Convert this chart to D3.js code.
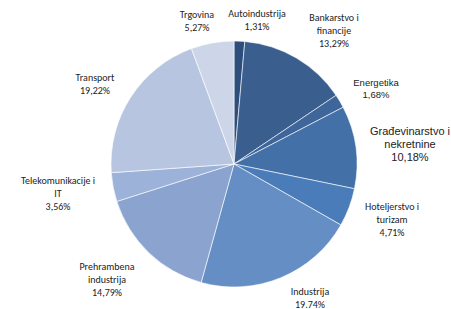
<!DOCTYPE html>
<html>
<head>
<meta charset="utf-8">
<script src="https://cdn.jsdelivr.net/npm/d3@7"></script>
<style>
  body { margin: 0; background: #fff; }
  text { fill: #222; }
</style>
</head>
<body>
<div id="canva"></div>
<script>
const sectors = ["Autoindustrija", "Bankarstvo i financije", "Energetika", "Građevinarstvo i nekretnine",
    "Hoteljerstvo i turizam", "Industrija", "Prehrambena industrija", "Telekomunikacije i IT", "Transport", "Trgovina"];
const shares = [1.31, 13.29, 1.68, 10.18, 4.71, 19.74, 14.79, 3.56, 19.22, 5.27];
const shareLabels = ["1,31%", "13,29%", "1,68%", "10,18%", "4,71%", "19.74%", "14,79%", "3,56%", "19,22%", "5,27%"];
const labelLines = [
    ["Autoindustrija"],
    ["Bankarstvo i", "financije"],
    ["Energetika"],
    ["Građevinarstvo i", "nekretnine"],
    ["Hoteljerstvo i", "turizam"],
    ["Industrija"],
    ["Prehrambena", "industrija"],
    ["Telekomunikacije i", "IT"],
    ["Transport"],
    ["Trgovina"]
];
const colors = ["#2d4e7a", "#3a5f8e", "#3e669a", "#4470a8", "#4a7cb9", "#658ec4", "#8aa4cf", "#9db2d8", "#b8c5e0", "#cdd6e9"];

// label anchor points (first line baseline centre)
const labelPos = [[257, 17], [334, 21], [376, 86], [410, 135], [392, 210], [310, 295], [107, 270], [58, 184], [95, 81], [197, 18]];

const width = 451, height = 309;
const cx = 234, cy = 164, radius = 123;

const svg = d3.select("#canva").append("svg")
    .attr("width", width)
    .attr("height", height);

const pie = d3.pie().sort(null).value(d => d);
const arc = d3.arc().innerRadius(0).outerRadius(radius);

const g = svg.append("g").attr("transform", `translate(${cx},${cy})`);

g.selectAll("path")
    .data(pie(shares))
    .join("path")
        .attr("d", arc)
        .attr("fill", (d, i) => colors[i])
        .attr("stroke", "#fff")
        .attr("stroke-width", 0.6);

const labels = svg.append("g")
    .attr("text-anchor", "middle")
    .style("font-family", "Carlito, 'Liberation Sans Narrow', 'Open Sans', sans-serif");

sectors.forEach((name, i) => {
    const lines = labelLines[i].concat([shareLabels[i]]);
    const arial = i === 2 || i === 3;
    const t = labels.append("text")
        .attr("x", labelPos[i][0])
        .attr("y", labelPos[i][1])
        .style("font-size", i === 3 ? "11px" : (i === 2 ? "9.5px" : "10px"))
        .style("font-family", arial ? "'Liberation Sans', Arial, sans-serif" : null);
    lines.forEach((line, j) => {
        t.append("tspan")
            .attr("x", labelPos[i][0])
            .attr("dy", j === 0 ? 0 : (i === 2 ? 12 : 13))
            .text(line);
    });
});
</script>
</body>
</html>
